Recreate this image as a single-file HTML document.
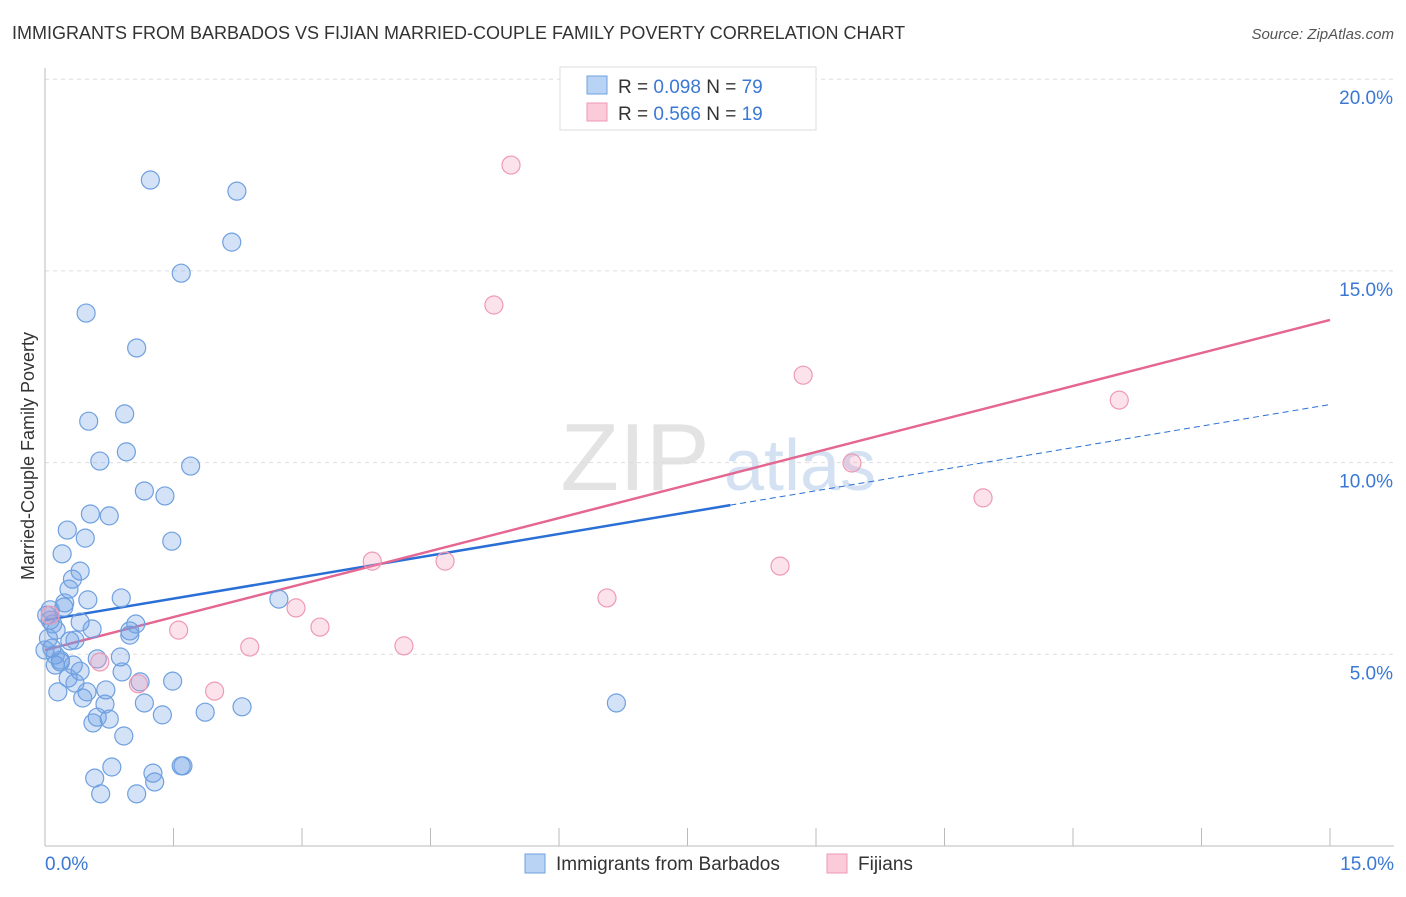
<!DOCTYPE html>
<html><head><meta charset="utf-8"><style>
body{margin:0;background:#fff;font-family:"Liberation Sans",sans-serif}
svg text{font-family:"Liberation Sans",sans-serif}
</style></head><body>
<svg id="chart" width="1406" height="892">
<text x="12" y="39" font-size="18" fill="#333">IMMIGRANTS FROM BARBADOS VS FIJIAN MARRIED-COUPLE FAMILY POVERTY CORRELATION CHART</text>
<text x="1394" y="39" font-size="15" fill="#555" font-style="italic" text-anchor="end">Source: ZipAtlas.com</text>
<text x="0" y="0" font-size="18" fill="#333" text-anchor="middle" transform="translate(34,456) rotate(-90)">Married-Couple Family Poverty</text>
<g><text x="635" y="490" font-size="96" fill="#ddd" font-family="Liberation Serif" text-anchor="middle" opacity="0.8">ZIP</text><text x="800" y="490" font-size="72" fill="#c9daf0" text-anchor="middle" opacity="0.8">atlas</text></g>
<g id="grid"></g><g id="axes"></g><g id="trend"></g><g id="pts"></g>
<g>
<rect x="560" y="67" width="256" height="63" fill="#fff" stroke="#ddd"/>
<rect x="587" y="76" width="20" height="18" fill="#b9d3f5" stroke="#6fa0e0"/>
<rect x="587" y="103" width="20" height="18" fill="#fbcbd9" stroke="#ee9ab5"/>
<text x="618" y="93" font-size="19" fill="#333">R = <tspan fill="#3a78d4">0.098</tspan>   N = <tspan fill="#3a78d4">79</tspan></text>
<text x="618" y="120" font-size="19" fill="#333">R = <tspan fill="#3a78d4">0.566</tspan>   N =  <tspan fill="#3a78d4">19</tspan></text>
</g>
<g>
<rect x="525" y="854" width="20" height="19" fill="#b9d3f5" stroke="#6fa0e0"/>
<text x="556" y="870" font-size="19" fill="#333">Immigrants from Barbados</text>
<rect x="827" y="854" width="20" height="19" fill="#fbcbd9" stroke="#ee9ab5"/>
<text x="858" y="870" font-size="19" fill="#333">Fijians</text>
</g>
</svg>
<script>
const blueX=[1.23,2.24,2.18,1.59,0.48,1.07,0.51,0.93,0.95,0.64,1.70,1.16,1.40,0.53,0.75,0.26,1.48,0.47,0.20,0.41,0.32,0.28,0.23,0.50,0.89,2.73,0.06,0.22,0.41,0.09,0.55,0.99,1.06,0.04,0.29,0.08,0.61,0.88,0.18,0.33,0.41,0.90,0.12,0.27,0.35,1.11,1.49,0.71,0.49,0.15,0.44,1.16,0.70,1.37,1.87,2.30,0.61,0.75,0.56,0.92,6.67,0.78,0.58,1.26,1.59,1.61,1.28,0.65,1.07,0.06,0.13,0.02,0.0,0.12,0.18,0.99,0.35];
const blueY=[17.37,17.08,15.75,14.94,13.90,12.99,11.08,11.27,10.28,10.04,9.91,9.26,9.13,8.66,8.61,8.24,7.95,8.03,7.62,7.17,6.96,6.70,6.34,6.42,6.47,6.44,6.16,6.23,5.84,5.79,5.66,5.61,5.79,5.42,5.35,5.16,4.88,4.93,4.80,4.72,4.56,4.54,4.72,4.38,4.25,4.28,4.30,4.07,4.02,4.02,3.86,3.73,3.70,3.42,3.49,3.63,3.36,3.31,3.21,2.87,3.73,2.06,1.77,1.90,2.09,2.09,1.67,1.36,1.36,5.89,5.63,6.02,5.11,4.98,4.85,5.50,5.37];
const pinkX=[5.44,5.24,8.85,12.54,9.42,10.95,3.82,4.67,8.58,6.56,2.93,3.21,1.56,2.39,4.19,0.64,1.09,1.98,0.06];
const pinkY=[17.76,14.11,12.28,11.63,9.99,9.08,7.43,7.43,7.30,6.47,6.21,5.71,5.63,5.19,5.22,4.80,4.23,4.04,6.02];
const yTicks=[5,10,15,20];
const xTickLabels=["0.0%","15.0%"];
const blueTrend=[5.89,0.375]; // intercept, slope
const pinkTrend=[5.11,0.574];
const blueSolidEnd=8.0;
const NS="http://www.w3.org/2000/svg";
const sx=v=>45+v*1285/15, sy=v=>846-v*191.7/5;
function mk(p,t,a){const e=document.createElementNS(NS,t);for(const k in a)e.setAttribute(k,a[k]);document.getElementById(p).appendChild(e);return e;}
yTicks.forEach(t=>{
 const l=mk('grid','line',{x1:45,x2:1394,y1:sy(t),y2:sy(t),stroke:'#ddd','stroke-dasharray':'4,4'});
 
 
 const tx=mk('grid','text',{x:1393,y:sy(t)+25,'font-size':19,fill:'#3a78d4','text-anchor':'end'});tx.textContent=t.toFixed(1)+'%';
 
 
});
let ax=mk('axes','line',{x1:45,x2:45,y1:68,y2:846,stroke:'#bbb'});


ax=mk('axes','line',{x1:45,x2:1394,y1:846,y2:846,stroke:'#bbb'});


for(let i=0;i<=10;i++){const t=mk('axes','line',{x1:sx(i*1.5),x2:sx(i*1.5),y1:828,y2:846,stroke:'#bbb'});
 
 }
[[0,'start',45],[15,'end',1394]].forEach((d,i)=>{const t=mk('axes','text',{x:d[2],y:870,'font-size':19,fill:'#3a78d4','text-anchor':d[1]});t.textContent=xTickLabels[i];
 
 });
blueX.forEach((x,i)=>{const c=mk('pts','circle',{cx:sx(x),cy:sy(blueY[i]),r:9,fill:'rgba(110,160,230,0.3)',stroke:'#6fa0e0','stroke-width':1.2});
 
 });
pinkX.forEach((x,i)=>{const c=mk('pts','circle',{cx:sx(x),cy:sy(pinkY[i]),r:9,fill:'rgba(245,160,190,0.3)',stroke:'#ee9ab5','stroke-width':1.2});
 
 });
const f=(t,x)=>t[0]+t[1]*x;
let l=mk('trend','line',{x1:sx(0),y1:sy(f(blueTrend,0)),x2:sx(blueSolidEnd),y2:sy(f(blueTrend,blueSolidEnd)),stroke:'#2a6fd6','stroke-width':2.5});


l=mk('trend','line',{x1:sx(blueSolidEnd),y1:sy(f(blueTrend,blueSolidEnd)),x2:sx(15),y2:sy(f(blueTrend,15)),stroke:'#2a6fd6','stroke-width':1,'stroke-dasharray':'6,4'});


l=mk('trend','line',{x1:sx(0),y1:sy(f(pinkTrend,0)),x2:sx(15),y2:sy(f(pinkTrend,15)),stroke:'#e56690','stroke-width':2.5});


</script>
</body></html>
